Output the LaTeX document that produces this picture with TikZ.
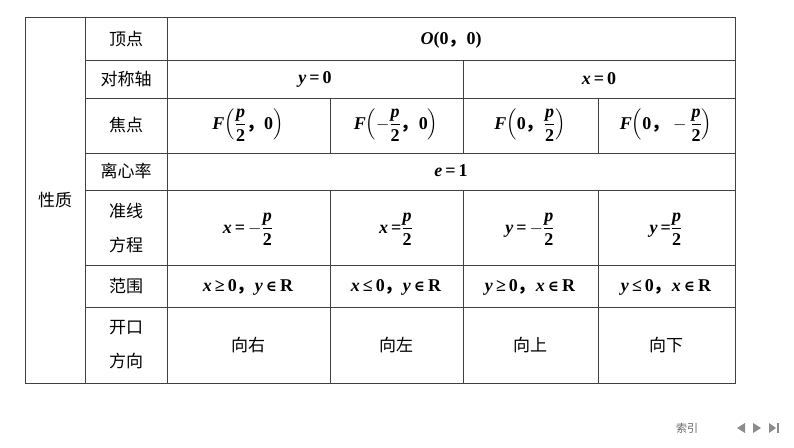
\documentclass[tikz,border=0pt]{standalone}
\usepackage{amsmath}
\usepackage{fontspec}
\setmainfont{Liberation Serif}
\newfontfamily\cjk{Noto Sans CJK SC}
\newfontfamily\dv{DejaVu Serif}
\newcommand{\V}[1]{\textit{#1}}
\newcommand{\IN}{{\dv\fontsize{15}{18}\selectfont ∈}}
\newcommand{\Fr}{\ensuremath{\dfrac{\text{\bfseries\itshape p}}{\text{\bfseries 2}}}}
\newcommand{\Frm}{\ensuremath{-\dfrac{\text{\bfseries\itshape p}}{\text{\bfseries 2}}}}
\begin{document}
\begin{tikzpicture}[x=1pt,y=-1pt,
  txt/.style={font=\fontsize{18}{20}\selectfont\bfseries, inner sep=0pt},
  zh/.style={font=\cjk\fontsize{17}{26}\selectfont, inner sep=0pt, align=center},
  grid/.style={draw=black!75, line width=0.6pt}]
\useasboundingbox (0,0) rectangle (794,447);
\fill[white] (0,0) rectangle (794,447);
% lines
\draw[grid] (25,17) rectangle (735,383);
\draw[grid] (85,17) -- (85,383);
\draw[grid] (167,17) -- (167,383);
\foreach \y in {60,98,153,190,265,307} \draw[grid] (85,\y) -- (735,\y);
\draw[grid] (463,60) -- (463,153);
\draw[grid] (330,98) -- (330,153);
\draw[grid] (598,98) -- (598,153);
\foreach \x in {330,463,598} \draw[grid] (\x,190) -- (\x,383);
% labels
\node[zh] (xz) at (55,200) {性质};
\node[zh] (dd) at (126,39) {顶点};
\node[zh] (dcz) at (126,79) {对称轴};
\node[zh] (jd) at (126,125) {焦点};
\node[zh] (lxl) at (126,171) {离心率};
\node[zh, font=\cjk\fontsize{17}{34}\selectfont] (zx) at (126,228) {准线\\方程};
\node[zh] (fw) at (126,286) {范围};
\node[zh, font=\cjk\fontsize{17}{34}\selectfont] (kk) at (126,345) {开口\\方向};
\node[txt] (o) at (451,40) {\V{O}(0{\cjk，}0)};
\node[txt] (y0) at (315,79) {\V{y}\,=\,0};
\node[txt] (x0) at (599,79) {\V{x}\,=\,0};
\node[txt] (f1) at (248,125) {\V{F}$\left(\Fr\text{\bfseries\cjk，}\text{\bfseries 0}\right)$};
\node[txt] (f2) at (396,125) {\V{F}$\left(\Frm\text{\bfseries\cjk，}\text{\bfseries 0}\right)$};
\node[txt] (f3) at (530,125) {\V{F}$\left(\text{\bfseries 0}\text{\bfseries\cjk，}\Fr\right)$};
\node[txt] (f4) at (666,125) {\V{F}$\left(\text{\bfseries 0}\text{\bfseries\cjk，}\Frm\right)$};
\node[txt] (e) at (451,171) {\V{e}\,=\,1};
\node[txt] (d1) at (248,229) {\V{x}\,=\,\Frm};
\node[txt] (d2) at (396,229) {\V{x}\,=\Fr};
\node[txt] (d3) at (530,229) {\V{y}\,=\,\Frm};
\node[txt] (d4) at (666,229) {\V{y}\,=\Fr};
\node[txt] (r1) at (248,287) {\V{x}\,≥\,0{\cjk，}\V{y}\,\IN\,R};
\node[txt] (r2) at (396,287) {\V{x}\,≤\,0{\cjk，}\V{y}\,\IN\,R};
\node[txt] (r3) at (530,287) {\V{y}\,≥\,0{\cjk，}\V{x}\,\IN\,R};
\node[txt] (r4) at (666,287) {\V{y}\,≤\,0{\cjk，}\V{x}\,\IN\,R};
\node[zh] (k1) at (248,345) {向右};
\node[zh] (k2) at (396,345) {向左};
\node[zh] (k3) at (530,345) {向上};
\node[zh] (k4) at (666,345) {向下};
% footer
\node[font=\cjk\fontsize{11}{12}\selectfont, text=black!60, inner sep=0pt] (sy) at (687,428) {索引};
\fill[black!45] (745,423) -- (745,433) -- (737,428) -- cycle;
\fill[black!45] (753,423) -- (753,433) -- (761,428) -- cycle;
\fill[black!45] (769,423) -- (769,433) -- (776,428) -- cycle;
\fill[black!45] (777,423) rectangle (778.5,433);
\end{tikzpicture}
\end{document}
